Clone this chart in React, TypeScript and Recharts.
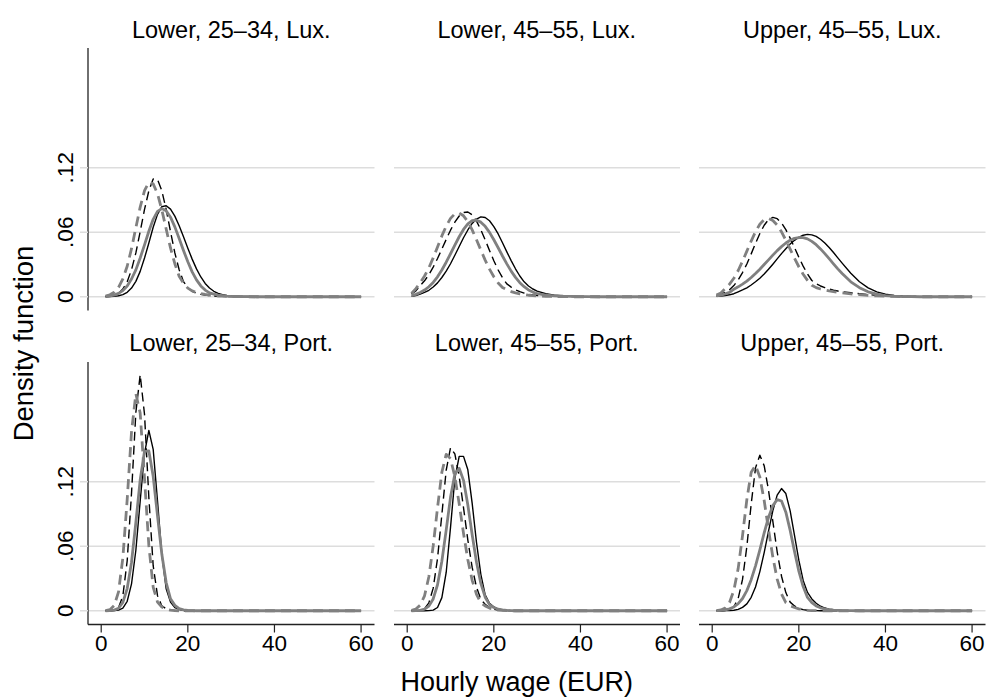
import React from 'react';
import { LineChart, Line, XAxis, YAxis, CartesianGrid } from 'recharts';

// ---------- data ----------
const WAGE = [1, 2, 3, 4, 5, 6, 7, 8, 9, 10, 11, 12, 13, 14, 15, 16, 17, 18, 19, 20, 21, 22, 23, 24, 25, 26, 27, 28, 29, 30, 32, 34, 36, 38, 40, 42, 44, 46, 48, 50, 55, 60];
const X_TICKS = [0, 20, 40, 60];
const Y_TICKS = [0, 0.06, 0.12];
const Y_TICK_LABELS = ['0', '.06', '.12'];
const PANEL_TITLES = [
  'Lower, 25\u201334, Lux.',
  'Lower, 45\u201355, Lux.',
  'Upper, 45\u201355, Lux.',
  'Lower, 25\u201334, Port.',
  'Lower, 45\u201355, Port.',
  'Upper, 45\u201355, Port.',
];
const X_TITLE = 'Hourly wage (EUR)';
const Y_TITLE = 'Density function';

// Lower, 25-34, Lux.
const LUX_L2534_BS = [
  0, 0.0001, 0.0003, 0.0009, 0.002, 0.0041, 0.0081, 0.0143, 0.0236, 0.036,
  0.05, 0.0646, 0.0766, 0.0838, 0.0847, 0.0815, 0.075, 0.066, 0.0557, 0.0452,
  0.035, 0.0259, 0.0184, 0.0124, 0.0081, 0.0051, 0.0031, 0.0019, 0.0012, 0.0008,
  0.0004, 0.0002, 0.0001, 0, 0, 0, 0, 0, 0, 0, 0, 0,
];
const LUX_L2534_GS = [
  0.0003, 0.0007, 0.0015, 0.0031, 0.0057, 0.01, 0.0165, 0.025, 0.0361, 0.0483,
  0.0609, 0.072, 0.0794, 0.082, 0.0799, 0.074, 0.065, 0.0542, 0.043, 0.0325,
  0.0231, 0.0157, 0.0101, 0.0062, 0.0036, 0.0025, 0.0016, 0.001, 0.0006, 0.0004,
  0.0002, 0.0001, 0, 0, 0, 0, 0, 0, 0, 0, 0, 0,
];
const LUX_L2534_BD = [
  0.0002, 0.0005, 0.0013, 0.0032, 0.0071, 0.014, 0.0251, 0.0408, 0.0606, 0.0812,
  0.0986, 0.1095, 0.109, 0.0986, 0.0812, 0.0606, 0.0408, 0.0251, 0.014, 0.0085,
  0.005, 0.0032, 0.0022, 0.0015, 0.001, 0.0007, 0.0005, 0.0003, 0.0002, 0.0001,
  0, 0, 0, 0, 0, 0, 0, 0, 0, 0, 0, 0,
];
const LUX_L2534_GD = [
  0.0007, 0.0018, 0.0041, 0.0087, 0.0166, 0.0284, 0.0447, 0.0642, 0.0834, 0.0988,
  0.1066, 0.105, 0.0958, 0.0808, 0.063, 0.0454, 0.0307, 0.019, 0.0125, 0.008,
  0.0055, 0.004, 0.0029, 0.0021, 0.0015, 0.001, 0.0007, 0.0005, 0.0003, 0.0002,
  0.0001, 0, 0, 0, 0, 0, 0, 0, 0, 0, 0, 0,
];

// Lower, 45-55, Lux.
const LUX_L4555_BS = [
  0.0005, 0.0011, 0.0025, 0.004, 0.006, 0.0091, 0.0129, 0.0179, 0.0238, 0.0307,
  0.0386, 0.0468, 0.0549, 0.0621, 0.0682, 0.0723, 0.0743, 0.0737, 0.0707, 0.0653,
  0.0584, 0.0502, 0.0417, 0.0336, 0.026, 0.0193, 0.0139, 0.01, 0.0072, 0.0052,
  0.0028, 0.0015, 0.0008, 0.0004, 0.0002, 0.0001, 0, 0, 0, 0, 0, 0,
];
const LUX_L4555_GS = [
  0.001, 0.0022, 0.004, 0.0062, 0.0093, 0.0133, 0.0185, 0.0249, 0.0321, 0.04,
  0.0481, 0.0558, 0.0626, 0.0677, 0.0707, 0.0712, 0.0694, 0.0655, 0.0599, 0.053,
  0.0456, 0.0379, 0.0306, 0.0238, 0.018, 0.0131, 0.0093, 0.0063, 0.0043, 0.0028,
  0.0016, 0.0009, 0.0005, 0.0003, 0.0002, 0.0001, 0, 0, 0, 0, 0, 0,
];
const LUX_L4555_BD = [
  0.0025, 0.0055, 0.0103, 0.0148, 0.0205, 0.0276, 0.0356, 0.0443, 0.0533, 0.0619,
  0.0694, 0.0751, 0.0783, 0.0788, 0.0762, 0.0704, 0.0623, 0.0529, 0.0431, 0.0335,
  0.0249, 0.0177, 0.012, 0.009, 0.0065, 0.0047, 0.0034, 0.0024, 0.0017, 0.0012,
  0.0006, 0.0003, 0.0002, 0.0001, 0, 0, 0, 0, 0, 0, 0, 0,
];
const LUX_L4555_GD = [
  0.003, 0.0075, 0.0131, 0.0193, 0.0269, 0.0361, 0.0463, 0.0566, 0.0657, 0.0729,
  0.0771, 0.0779, 0.0753, 0.0699, 0.0622, 0.053, 0.0434, 0.0341, 0.0257, 0.0186,
  0.0128, 0.0086, 0.0065, 0.0048, 0.0036, 0.0027, 0.002, 0.0014, 0.001, 0.0007,
  0.0004, 0.0002, 0.0001, 0, 0, 0, 0, 0, 0, 0, 0, 0,
];

// Upper, 45-55, Lux.
const LUX_U4555_BS = [
  0.0003, 0.0006, 0.0011, 0.0018, 0.0028, 0.0046, 0.0063, 0.0083, 0.0109, 0.0139,
  0.0172, 0.0212, 0.0256, 0.0303, 0.0352, 0.0401, 0.0447, 0.049, 0.0525, 0.0553,
  0.0572, 0.058, 0.0576, 0.0561, 0.0535, 0.05, 0.0458, 0.0411, 0.0362, 0.0313,
  0.0218, 0.0139, 0.0083, 0.0045, 0.0023, 0.0011, 0.0005, 0.0002, 0.0001, 0, 0, 0,
];
const LUX_U4555_GS = [
  0.0008, 0.0015, 0.0026, 0.004, 0.007, 0.0092, 0.0117, 0.0146, 0.0179, 0.0216,
  0.0256, 0.03, 0.0343, 0.0387, 0.0429, 0.0466, 0.05, 0.0525, 0.0543, 0.0551,
  0.055, 0.0538, 0.0515, 0.0484, 0.0445, 0.0401, 0.0354, 0.0306, 0.0259, 0.0216,
  0.0139, 0.0084, 0.0046, 0.0024, 0.0011, 0.0005, 0.0002, 0.0001, 0, 0, 0, 0,
];
const LUX_U4555_BD = [
  0.0013, 0.0023, 0.004, 0.0066, 0.0104, 0.0157, 0.0225, 0.0305, 0.0399, 0.0497,
  0.0588, 0.0665, 0.0717, 0.0738, 0.0726, 0.0686, 0.0624, 0.0545, 0.0457, 0.0368,
  0.0285, 0.0212, 0.0151, 0.012, 0.01, 0.0085, 0.0072, 0.006, 0.0053, 0.0047,
  0.0037, 0.0028, 0.002, 0.0013, 0.0008, 0.0005, 0.0003, 0.0002, 0.0001, 0, 0, 0,
];
const LUX_U4555_GD = [
  0.0015, 0.0035, 0.0075, 0.0117, 0.0172, 0.0244, 0.033, 0.0424, 0.0518, 0.0605,
  0.0675, 0.0718, 0.0728, 0.071, 0.0667, 0.0604, 0.0526, 0.0442, 0.0359, 0.0279,
  0.0209, 0.0152, 0.0107, 0.0085, 0.0072, 0.0062, 0.0054, 0.0047, 0.0041, 0.0036,
  0.0027, 0.0019, 0.0012, 0.0008, 0.0005, 0.0003, 0.0002, 0.0001, 0, 0, 0, 0,
];

// Lower, 25-34, Port.
const POR_L2534_BS = [
  0, 0, 0.0001, 0.0006, 0.0025, 0.0088, 0.025, 0.0563, 0.102, 0.1465,
  0.1678, 0.1502, 0.102, 0.0522, 0.0205, 0.008, 0.003, 0.0012, 0.0005, 0.0002,
  0.0001, 0, 0, 0, 0, 0, 0, 0, 0, 0,
  0, 0, 0, 0, 0, 0, 0, 0, 0, 0, 0, 0,
];
const POR_L2534_GS = [
  0, 0.0001, 0.0006, 0.0023, 0.0078, 0.0206, 0.0452, 0.0821, 0.1218, 0.1483,
  0.1487, 0.1251, 0.0883, 0.0525, 0.0262, 0.0111, 0.005, 0.002, 0.0008, 0.0003,
  0.0001, 0, 0, 0, 0, 0, 0, 0, 0, 0,
  0, 0, 0, 0, 0, 0, 0, 0, 0, 0, 0, 0,
];
const POR_L2534_BD = [
  0, 0, 0.0004, 0.0029, 0.0139, 0.0465, 0.1095, 0.1845, 0.2195, 0.1827,
  0.1054, 0.0419, 0.014, 0.0045, 0.0018, 0.0007, 0.0003, 0.0001, 0, 0,
  0, 0, 0, 0, 0, 0, 0, 0, 0, 0,
  0, 0, 0, 0, 0, 0, 0, 0, 0, 0, 0, 0,
];
const POR_L2534_GD = [
  0.0002, 0.001, 0.0048, 0.0176, 0.0493, 0.1036, 0.1665, 0.2019, 0.1839, 0.1232,
  0.0605, 0.0219, 0.008, 0.0035, 0.0015, 0.0006, 0.0002, 0, 0, 0,
  0, 0, 0, 0, 0, 0, 0, 0, 0, 0,
  0, 0, 0, 0, 0, 0, 0, 0, 0, 0, 0, 0,
];

// Lower, 45-55, Port.
const POR_L4555_BS = [
  0, 0, 0, 0, 0.0001, 0.0006, 0.003, 0.0122, 0.0356, 0.0775,
  0.123, 0.1436, 0.1436, 0.1311, 0.0999, 0.0635, 0.0339, 0.0148, 0.007, 0.0035,
  0.0016, 0.0007, 0.0003, 0.0001, 0, 0, 0, 0, 0, 0,
  0, 0, 0, 0, 0, 0, 0, 0, 0, 0, 0, 0,
];
const POR_L4555_GS = [
  0, 0.0001, 0.0004, 0.0015, 0.0043, 0.011, 0.0242, 0.046, 0.075, 0.1055,
  0.1273, 0.1325, 0.1213, 0.0983, 0.0707, 0.0451, 0.0254, 0.0126, 0.0057, 0.003,
  0.0014, 0.0007, 0.0003, 0.0001, 0, 0, 0, 0, 0, 0,
  0, 0, 0, 0, 0, 0, 0, 0, 0, 0, 0, 0,
];
const POR_L4555_BD = [
  0, 0.0001, 0.0004, 0.002, 0.0073, 0.021, 0.0486, 0.0895, 0.1307, 0.1516,
  0.1459, 0.1251, 0.0959, 0.0657, 0.0403, 0.0219, 0.0105, 0.006, 0.003, 0.0015,
  0.0007, 0.0003, 0.0001, 0, 0, 0, 0, 0, 0, 0,
  0, 0, 0, 0, 0, 0, 0, 0, 0, 0, 0, 0,
];
const POR_L4555_GD = [
  0.0004, 0.0016, 0.0052, 0.0139, 0.0316, 0.0603, 0.0959, 0.1288, 0.1455, 0.1415,
  0.1247, 0.0996, 0.072, 0.0474, 0.0283, 0.0153, 0.0074, 0.0045, 0.0025, 0.0013,
  0.0006, 0.0003, 0.0001, 0, 0, 0, 0, 0, 0, 0,
  0, 0, 0, 0, 0, 0, 0, 0, 0, 0, 0, 0,
];

// Upper, 45-55, Port.
const POR_U4555_BS = [
  0, 0, 0.0001, 0.0002, 0.0005, 0.0013, 0.0031, 0.0064, 0.0125, 0.0221,
  0.0364, 0.0541, 0.0741, 0.0932, 0.1075, 0.1137, 0.109, 0.0929, 0.0702, 0.047,
  0.0282, 0.017, 0.011, 0.007, 0.0042, 0.0025, 0.0015, 0.0009, 0.0005, 0.0003,
  0.0001, 0, 0, 0, 0, 0, 0, 0, 0, 0, 0, 0,
];
const POR_U4555_GS = [
  0.0002, 0.0004, 0.0009, 0.0018, 0.0035, 0.0066, 0.0114, 0.0187, 0.0289, 0.0418,
  0.0567, 0.0724, 0.0868, 0.0978, 0.1034, 0.1021, 0.0917, 0.0747, 0.0552, 0.0369,
  0.0225, 0.0124, 0.0075, 0.0045, 0.0027, 0.0016, 0.001, 0.0006, 0.0004, 0.0002,
  0.0001, 0, 0, 0, 0, 0, 0, 0, 0, 0, 0, 0,
];
const POR_U4555_BD = [
  0, 0, 0.0002, 0.001, 0.0037, 0.0115, 0.0291, 0.0598, 0.0992, 0.1329,
  0.1447, 0.1349, 0.1122, 0.0831, 0.0548, 0.0321, 0.0169, 0.008, 0.0045, 0.0022,
  0.001, 0.0005, 0.0002, 0.0001, 0, 0, 0, 0, 0, 0,
  0, 0, 0, 0, 0, 0, 0, 0, 0, 0, 0, 0,
];
const POR_U4555_GD = [
  0.0002, 0.0007, 0.0025, 0.0076, 0.0191, 0.0394, 0.0699, 0.1035, 0.1289, 0.1351,
  0.1244, 0.1025, 0.0755, 0.0499, 0.0294, 0.0156, 0.0075, 0.0045, 0.003, 0.0018,
  0.0009, 0.0004, 0.0002, 0.0001, 0, 0, 0, 0, 0, 0,
  0, 0, 0, 0, 0, 0, 0, 0, 0, 0, 0, 0,
];

const PANELS = [
  { title: PANEL_TITLES[0], bs: LUX_L2534_BS, bd: LUX_L2534_BD, gs: LUX_L2534_GS, gd: LUX_L2534_GD },
  { title: PANEL_TITLES[1], bs: LUX_L4555_BS, bd: LUX_L4555_BD, gs: LUX_L4555_GS, gd: LUX_L4555_GD },
  { title: PANEL_TITLES[2], bs: LUX_U4555_BS, bd: LUX_U4555_BD, gs: LUX_U4555_GS, gd: LUX_U4555_GD },
  { title: PANEL_TITLES[3], bs: POR_L2534_BS, bd: POR_L2534_BD, gs: POR_L2534_GS, gd: POR_L2534_GD },
  { title: PANEL_TITLES[4], bs: POR_L4555_BS, bd: POR_L4555_BD, gs: POR_L4555_GS, gd: POR_L4555_GD },
  { title: PANEL_TITLES[5], bs: POR_U4555_BS, bd: POR_U4555_BD, gs: POR_U4555_GS, gd: POR_U4555_GD },
];

// ---------- layout & style ----------
const FONT = '"Liberation Sans", Arial, Helvetica, sans-serif';
const BLACK = '#000000';
const GRAY = '#808080';
const GRID = '#dddddd';
const AXIS = '#222222';
const X_DOMAIN: [number, number] = [-3.05, 63.1];
const Y_DOMAIN: [number, number] = [-0.0128, 0.2314];
const COL_LEFT = [88, 393.5, 699];
const PLOT_W = 286.5;
const ROW_TOP = [48, 361.8];
const PLOT_H = 262.5;
const TITLE_BASE = [37.5, 351];
const Y_AXIS_W = 88;
const X_AXIS_H = 40;
const TICK_FONT = 22.5;

function YTick(props: any) {
  const { y, payload } = props;
  const idx = Y_TICKS.indexOf(payload.value);
  const label = idx >= 0 ? Y_TICK_LABELS[idx] : String(payload.value);
  const bx = 73.5;
  return (
    <text
      x={bx}
      y={y}
      transform={`rotate(-90 ${bx} ${y})`}
      textAnchor="middle"
      fontSize={TICK_FONT}
      fontFamily={FONT}
      fill="#000"
    >
      {label}
    </text>
  );
}

function Panel({ index }: { index: number }) {
  const panel = PANELS[index];
  const col = index % 3;
  const row = Math.floor(index / 3);
  const showY = col === 0;
  const showX = row === 1;
  const yW = showY ? Y_AXIS_W : 0;
  const xH = showX ? X_AXIS_H : 0;
  const width = PLOT_W + yW;
  const height = PLOT_H + xH;
  const rows = WAGE.map((w, i) => ({
    wage: w,
    bs: panel.bs[i],
    bd: panel.bd[i],
    gs: panel.gs[i],
    gd: panel.gd[i],
  }));
  return (
    <div style={{ position: 'absolute', left: COL_LEFT[col] - yW, top: ROW_TOP[row], width, height }}>
      <LineChart width={width} height={height} data={rows} margin={{ top: 0, right: 0, bottom: 0, left: 0 }}>
        <CartesianGrid vertical={false} horizontalValues={Y_TICKS} stroke={GRID} strokeWidth={1.5} />
        <XAxis
          type="number"
          dataKey="wage"
          domain={X_DOMAIN}
          ticks={X_TICKS}
          interval={0}
          allowDataOverflow
          hide={!showX}
          height={xH}
          tick={{ fontSize: TICK_FONT, fill: '#000', fontFamily: FONT }}
          tickLine={{ stroke: AXIS, strokeWidth: 1.2 }}
          axisLine={{ stroke: AXIS, strokeWidth: 1.3 }}
          tickSize={8}
          tickMargin={3}
        />
        <YAxis
          type="number"
          domain={Y_DOMAIN}
          ticks={Y_TICKS}
          interval={0}
          allowDataOverflow
          hide={!showY}
          width={yW}
          tick={<YTick />}
          tickLine={{ stroke: GRID, strokeWidth: 1.5 }}
          axisLine={{ stroke: AXIS, strokeWidth: 1.3 }}
          tickSize={8}
        />
        <Line type="linear" dataKey="bs" stroke={BLACK} strokeWidth={1.4} strokeLinejoin="round" dot={false} activeDot={false} isAnimationActive={false} />
        <Line type="linear" dataKey="bd" stroke={BLACK} strokeWidth={1.4} strokeDasharray="9 5" strokeLinejoin="round" dot={false} activeDot={false} isAnimationActive={false} />
        <Line type="linear" dataKey="gs" stroke={GRAY} strokeWidth={2.8} strokeLinejoin="round" dot={false} activeDot={false} isAnimationActive={false} />
        <Line type="linear" dataKey="gd" stroke={GRAY} strokeWidth={2.8} strokeDasharray="10 6" strokeLinejoin="round" dot={false} activeDot={false} isAnimationActive={false} />
      </LineChart>
    </div>
  );
}

export default function App() {
  return (
    <div
      style={{
        position: 'absolute',
        left: 0,
        top: 0,
        width: 988,
        height: 697,
        background: '#ffffff',
        overflow: 'hidden',
        fontFamily: FONT,
      }}
    >
      {PANELS.map((_, i) => (
        <Panel key={i} index={i} />
      ))}
      <svg width={988} height={697} style={{ position: 'absolute', left: 0, top: 0, pointerEvents: 'none' }}>
        {PANELS.map((p, i) => {
          const col = i % 3;
          const row = Math.floor(i / 3);
          return (
            <text
              key={i}
              x={COL_LEFT[col] + PLOT_W / 2}
              y={TITLE_BASE[row]}
              textAnchor="middle"
              fontSize={23.5}
              fontFamily={FONT}
              fill="#000"
            >
              {p.title}
            </text>
          );
        })}
        <text x={516.7} y={691} textAnchor="middle" fontSize={27} fontFamily={FONT} fill="#000">
          {X_TITLE}
        </text>
        <text
          x={32.5}
          y={343.5}
          transform="rotate(-90 32.5 343.5)"
          textAnchor="middle"
          fontSize={27.5}
          fontFamily={FONT}
          fill="#000"
        >
          {Y_TITLE}
        </text>
      </svg>
    </div>
  );
}
